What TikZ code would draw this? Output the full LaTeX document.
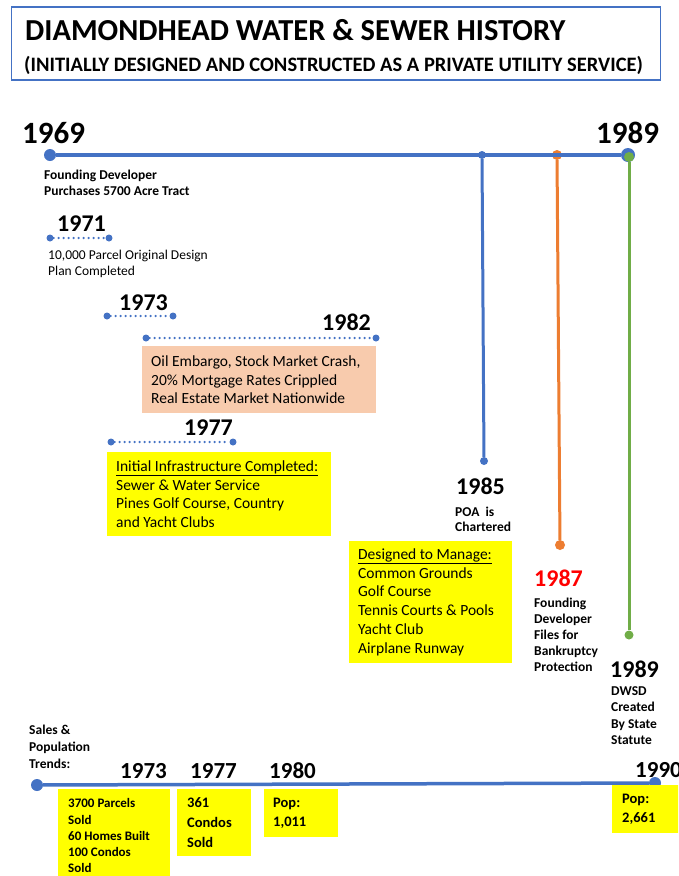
\documentclass[tikz,border=0pt]{standalone}
\usepackage{fontspec}
\setmainfont{Carlito}
\definecolor{tlblue}{HTML}{4472C4}
\definecolor{tlorange}{HTML}{ED7D31}
\definecolor{tlgreen}{HTML}{70AD47}
\definecolor{tlyellow}{HTML}{FFFF00}
\definecolor{tlpeach}{HTML}{F8CBAD}
\definecolor{tlred}{HTML}{FF0000}
\begin{document}
\begin{tikzpicture}[x=1pt,y=-1pt,
  tdot/.style={circle, fill=#1, inner sep=0pt},
  dotline/.style={tlblue, line width=2.5pt, line cap=round, dash pattern=on 0pt off 5pt},
  bigyr/.style={font=\fontsize{31}{36}\selectfont\bfseries, inner sep=0pt, anchor=west},
  yr/.style={font=\fontsize{24}{28}\selectfont\bfseries, inner sep=0pt, anchor=west},
  lbl/.style={font=\fontsize{13.5}{16.3}\selectfont\bfseries, inner sep=0pt, anchor=north west, align=left},
  body/.style={font=\fontsize{15.5}{18.8}\selectfont, inner sep=0pt, anchor=west, align=left},
  boxa/.style={fill=#1, inner sep=0pt, anchor=north west},
  smallbody/.style={font=\fontsize{13}{16.2}\selectfont\bfseries, inner sep=0pt, anchor=west, align=left},
  popbody/.style={font=\fontsize{14.5}{19.7}\selectfont\bfseries, inner sep=0pt, anchor=west, align=left}
]
\useasboundingbox (0,0) rectangle (678,876);
\clip (0,0) rectangle (678,876);
\fill[white] (0,0) rectangle (678,876);

% title
\node[draw=tlblue, line width=1.5pt, minimum width=649pt, minimum height=73pt, anchor=north west, inner sep=0pt] (tbox) at (10.5,6) {};
\node[font=\fontsize{30.5}{34}\selectfont\bfseries, inner sep=0pt, anchor=west] (title) at (25,30) {DIAMONDHEAD WATER \& SEWER HISTORY};
\node[font=\fontsize{20.5}{24}\selectfont\bfseries, inner sep=0pt, anchor=west] (subtitle) at (24,65) {(INITIALLY DESIGNED AND CONSTRUCTED AS A PRIVATE UTILITY SERVICE)};

% main timeline
\node[tdot=tlblue, minimum size=12pt] (d69) at (50,155) {};
\node[tdot=tlblue, minimum size=14pt] (d89) at (628,155) {};
\node[tdot=tlblue, minimum size=8pt] (d85) at (482,155) {};
\node[tdot=tlorange, minimum size=10pt] (d87) at (557,155) {};
\node[tdot=tlblue, minimum size=8pt] (e85) at (484,461) {};
\node[tdot=tlorange, minimum size=10pt] (e87) at (560,545) {};
\node[tdot=tlgreen, minimum size=9pt] (e89) at (629,635) {};
\draw[tlblue, line width=4pt] (d69) -- (d89);
\draw[tlblue, line width=3pt] (d85) -- (e85);
\draw[tlorange, line width=3pt] (d87) -- (e87);
\node[tdot=tlgreen, minimum size=10pt] (g89) at (629,157) {};
\draw[tlgreen, line width=3pt] (g89) -- (e89);

\node[bigyr] (y69) at (22,133) {1969};
\node[bigyr] (y89) at (596,132.5) {1989};
\node[lbl] (t69) at (44,170) {Founding Developer\\Purchases 5700 Acre Tract};

% 1971
\node[tdot=tlblue, minimum size=7pt] (a71) at (50,238) {};
\node[tdot=tlblue, minimum size=7pt] (b71) at (109,238) {};
\draw[dotline] (a71) -- (b71);
\node[yr] (y71) at (57,224) {1971};
\node[font=\fontsize{13.5}{16}\selectfont, inner sep=0pt, anchor=north west, align=left] (t71) at (48,250) {10,000 Parcel Original Design\\Plan Completed};

% 1973
\node[tdot=tlblue, minimum size=7pt] (a73) at (107,316) {};
\node[tdot=tlblue, minimum size=7pt] (b73) at (173,316) {};
\draw[dotline] (a73) -- (b73);
\node[yr] (y73) at (119,303) {1973};

% 1982
\node[tdot=tlblue, minimum size=7pt] (a82) at (146,338) {};
\node[tdot=tlblue, minimum size=7pt] (b82) at (376,338) {};
\draw[dotline] (a82) -- (b82);
\node[yr] (y82) at (322,322.5) {1982};
\node[boxa=tlpeach, minimum width=234pt, minimum height=67pt] (p82) at (142,346) {};
\node[body] (t82) at ([xshift=9pt]p82.west) {Oil Embargo, Stock Market Crash,\\20\% Mortgage Rates Crippled\\Real Estate Market Nationwide};

% 1977
\node[tdot=tlblue, minimum size=7pt] (a77) at (111,442) {};
\node[tdot=tlblue, minimum size=7pt] (b77) at (233,442) {};
\draw[dotline] (a77) -- (b77);
\node[yr] (y77) at (184,427.5) {1977};
\node[boxa=tlyellow, minimum width=224pt, minimum height=84pt] (p77) at (107,452) {};
\node[body] (t77) at ([xshift=9pt]p77.west) {\underline{Initial Infrastructure Completed:}\\Sewer \& Water Service\\Pines Golf Course, Country\\and Yacht Clubs};

% 1985
\node[yr] (y85) at (456,486) {1985};
\node[lbl, font=\fontsize{13.5}{15.2}\selectfont\bfseries] (t85) at (455,507) {POA\ \ is\\Chartered};
\node[boxa=tlyellow, minimum width=163pt, minimum height=122pt] (p85) at (349,541) {};
\node[body] (m85) at ([xshift=9pt]p85.west) {\underline{Designed to Manage:}\\Common Grounds\\Golf Course\\Tennis Courts \& Pools\\Yacht Club\\Airplane Runway};

% 1987
\node[yr, text=tlred] (y87) at (534,578) {1987};
\node[lbl, font=\fontsize{13.5}{16}\selectfont\bfseries] (t87) at (534,598) {Founding\\Developer\\Files for\\Bankruptcy\\Protection};

% 1989
\node[yr] (y89b) at (610,669.5) {1989};
\node[lbl, font=\fontsize{13.5}{16.5}\selectfont\bfseries] (t89) at (611,686) {DWSD\\Created\\By State\\Statute};

% bottom timeline
\node[lbl, font=\fontsize{13.5}{17}\selectfont\bfseries] (sales) at (29,725) {Sales \&\\Population\\Trends:};
\node[tdot=tlblue, minimum size=12pt] (s0) at (37,785) {};
\node[tdot=tlblue, minimum size=12pt] (s1) at (655,783) {};
\draw[tlblue, line width=3.5pt] (s0) -- (s1);
\node[yr, font=\fontsize{23}{27}\selectfont\bfseries] (z73) at (120,771) {1973};
\node[yr, font=\fontsize{23}{27}\selectfont\bfseries] (z77) at (190,771) {1977};
\node[yr, font=\fontsize{23}{27}\selectfont\bfseries] (z80) at (269,771) {1980};
\node[yr, font=\fontsize{23}{27}\selectfont\bfseries] (z90) at (635,770) {1990};

\node[boxa=tlyellow, minimum width=112pt, minimum height=93pt] (q73) at (58,789) {};
\node[smallbody] (r73) at ([xshift=10pt]q73.west) {3700 Parcels\\Sold\\60 Homes Built\\100 Condos\\Sold};
\node[boxa=tlyellow, minimum width=74pt, minimum height=67pt] (q77) at (177,789) {};
\node[popbody] (r77) at ([xshift=10pt]q77.west) {361\\Condos\\Sold};
\node[boxa=tlyellow, minimum width=74pt, minimum height=48pt] (q80) at (264,789) {};
\node[popbody] (r80) at ([xshift=9pt]q80.west) {Pop:\\1,011};
\node[boxa=tlyellow, minimum width=90pt, minimum height=48pt] (q90) at (612,785) {};
\node[popbody] (r90) at ([xshift=10pt]q90.west) {Pop:\\2,661};
\end{tikzpicture}
\end{document}
